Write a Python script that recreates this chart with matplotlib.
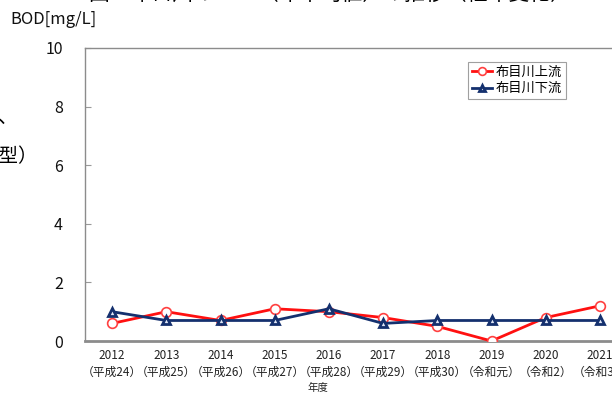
import numpy as np
import matplotlib.pyplot as plt

plt.rcParams['font.family'] = ['Noto Sans CJK JP', 'DejaVu Sans']

years = ['2012', '2013', '2014', '2015', '2016', '2017', '2018', '2019', '2020', '2021']
eras = ['（平成24）', '（平成25）', '（平成26）', '（平成27）', '（平成28）',
        '（平成29）', '（平成30）', '（令和元）', '（令和2）', '（令和3）']
upstream = [0.6, 1.0, 0.7, 1.1, 1.0, 0.8, 0.5, 0.0, 0.8, 1.2]
downstream = [1.0, 0.7, 0.7, 0.7, 1.1, 0.6, 0.7, 0.7, 0.7, 0.7]

W, H = 612, 394
fig = plt.figure(figsize=(W / 100, H / 100), dpi=100)
# plot area runs a little past the right edge of the figure
ax = fig.add_axes([85 / W, 1 - 341 / H, (627 - 85) / W, (341 - 48) / H])

x = np.arange(len(years))
ax.plot(x, upstream, color='#ff1010', lw=2.0, marker='o', ms=7,
        mfc='white', mec='#ff4040', mew=1.2, label='布目川上流', zorder=3)
ax.plot(x, downstream, color='#14306e', lw=2.0, marker='^', ms=6,
        mfc='#dfe6f5', mec='#14306e', mew=2.0, label='布目川下流', zorder=4)

ax.set_xlim(-0.5, len(years) - 0.5)
ax.set_ylim(0, 10)
ax.set_yticks(np.arange(0, 11, 2))
ax.set_xticks(x)
ax.set_xticklabels([f'{y}\n{e}' for y, e in zip(years, eras)],
                   fontsize=8.5, color='#222222', linespacing=1.35)
ax.tick_params(axis='x', length=0, pad=6)
ax.tick_params(axis='y', direction='in', length=4, color='#999999',
               labelsize=11.5, pad=16, labelcolor='#111111')

for side in ['top', 'right', 'left']:
    ax.spines[side].set_color('#8c8c8c')
    ax.spines[side].set_linewidth(1.0)
ax.spines['bottom'].set_color('#8c8c8c')
ax.spines['bottom'].set_linewidth(2.0)

fig.text(10 / W, 1 - 20 / H, 'BOD[mg/L]', fontsize=12, va='center', ha='left', color='#111111')
fig.text(318 / W, 1 - 388 / H, '年度', fontsize=7.5, va='center', ha='center', color='#222222')

# surrounding page text, mostly outside the figure
fig.text(330 / W, 1 - 0.5 / H, '図　布目川のBOD（年平均値）の推移（経年変化）', fontsize=15,
         va='baseline', ha='center', color='black')
fig.text(-2 / W, 1 - 117 / H, '、', fontsize=14, va='center', ha='left', color='black')
fig.text(-21 / W, 1 - 157 / H, '類型）', fontsize=14, va='center', ha='left', color='black')

leg = ax.legend(loc='upper left', bbox_to_anchor=((468 - 85) / (627 - 85), (341 - 62) / (341 - 48)),
                fontsize=9.5, frameon=True, fancybox=False, edgecolor='#888888',
                handlelength=1.5, handletextpad=0.3, borderpad=0.3, labelspacing=0.25,
                borderaxespad=0, markerscale=0.8)
leg.get_frame().set_linewidth(0.8)

fig.savefig('out.png', dpi=100)
